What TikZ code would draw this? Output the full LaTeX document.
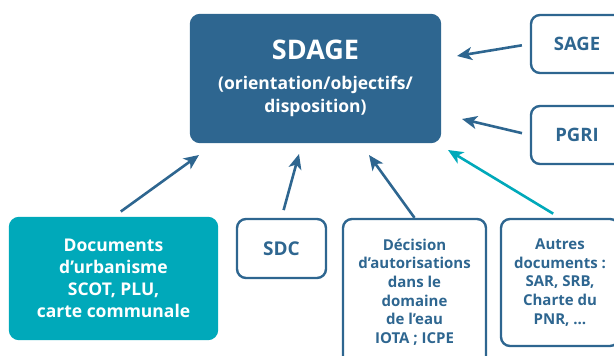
\documentclass[tikz,border=0pt]{standalone}
\usepackage{fontspec}
\setmainfont{Open Sans}
\usepackage{tikz}
\usetikzlibrary{arrows.meta}

\definecolor{sdblue}{HTML}{2E6690}
\definecolor{sdteal}{HTML}{00A9BA}

\tikzset{
  box/.style={draw=sdblue,line width=2.4pt,rounded corners=9pt,align=center,
    text=sdblue,inner sep=0pt},
  filledbox/.style={box,fill=#1,draw=#1,text=white},
  arr/.style={sdblue,line width=2.6pt,-{Stealth[length=15pt,width=13pt,inset=4pt]}},
}

\begin{document}
\begin{tikzpicture}[x=1pt,y=-1pt]
            \useasboundingbox (0,0) rectangle (614,356);

            % central box
            \node[filledbox=sdblue,minimum width=249pt,minimum height=127pt,
                font=\fontsize{17.5}{23}\selectfont\bfseries] (sdage) at (315.5,78.5)
                {{\fontsize{27}{30}\selectfont SDAGE}\\[7pt]
                 (orientation/objectifs/\\disposition)};

            % boxes on the right
            \node[box,minimum width=92pt,minimum height=58pt,
                font=\fontsize{18.5}{20}\selectfont\bfseries] (sage) at (577,44) {SAGE};
            \node[box,minimum width=92pt,minimum height=58pt,
                font=\fontsize{18.5}{20}\selectfont\bfseries] (pgri) at (577,135) {PGRI};

            % boxes at the bottom
            \node[filledbox=sdteal,minimum width=207pt,minimum height=121pt,
                font=\fontsize{17.5}{22}\selectfont\bfseries] (urba) at (113.5,278.5)
                {Documents\\d’urbanisme\\SCOT, PLU,\\carte communale};
            \node[box,minimum width=89pt,minimum height=59pt,
                font=\fontsize{19}{20}\selectfont\bfseries] (sdc) at (281.5,248.5) {SDC};
            \node[box,minimum width=143pt,minimum height=146pt,
                font=\fontsize{15}{18.6}\selectfont\bfseries] (deci) at (414.5,292)
                {D\'ecision\\d’autorisations\\dans le\\domaine\\de l’eau\\IOTA ; ICPE};
            \node[box,minimum width=118pt,minimum height=127pt,
                font=\fontsize{15}{18.6}\selectfont\bfseries] (autres) at (560,282.5)
                {Autres\\documents :\\SAR, SRB,\\Charte du\\PNR, \dots};

            % arrow tips near the SDAGE box
            \coordinate (tsage) at (457,56);
            \coordinate (tpgri) at (462,119);
            \coordinate (tautres) at (448,150);
            \coordinate (turba) at (199,155);
            \coordinate (tsdc) at (299,154);
            \coordinate (tdeci) at (369,155);

            \draw[arr,shorten <=8pt] (sage.west) -- (tsage);
            \draw[arr,shorten <=8pt] (pgri.west) -- (tpgri);
            \draw[arr,sdteal,shorten <=8pt] (autres.north) -- (tautres);
            \draw[arr,shorten <=9pt] (urba.north) -- (turba);
            \draw[arr,shorten <=8pt] (sdc.north) -- (tsdc);
            \draw[arr] (deci.north) -- (tdeci);
        \end{tikzpicture}
\end{document}
